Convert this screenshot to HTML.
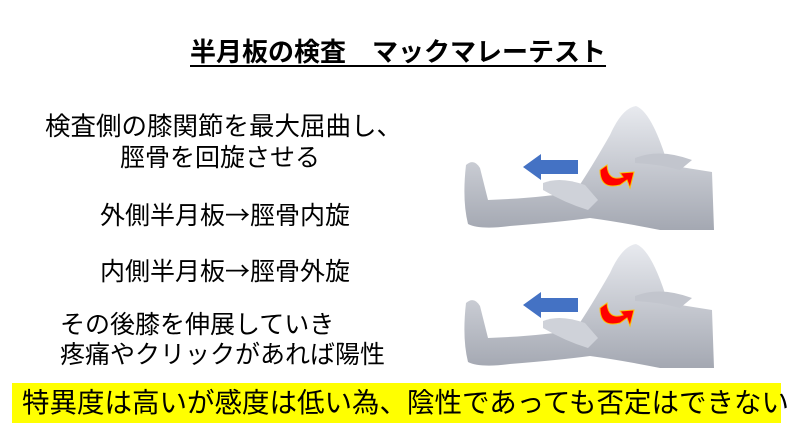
<!DOCTYPE html>
<html><head><meta charset="utf-8"><style>
body{margin:0;width:794px;height:447px;background:#fff;position:relative;overflow:hidden;font-family:"Liberation Sans","Noto Sans CJK JP",sans-serif;color:#000}
.t{position:absolute;white-space:nowrap;line-height:1}
.a{font-family:"Noto Sans CJK JP",sans-serif}
</style></head><body>
<div class="t" style="left:190px;top:39px;font-size:26px;font-weight:bold;text-decoration:underline;text-underline-offset:4px">半月板の検査　マックマレーテスト</div>
<div class="t" style="left:45px;top:115px;font-size:25.5px">検査側の膝関節を最大屈曲し、</div>
<div class="t" style="left:120px;top:146px;font-size:25px">脛骨を回旋させる</div>
<div class="t" style="left:100px;top:202px;font-size:25px">外側半月板<span class="a">→</span>脛骨内旋</div>
<div class="t" style="left:100px;top:258px;font-size:25px">内側半月板<span class="a">→</span>脛骨外旋</div>
<div class="t" style="left:60px;top:313px;font-size:25px">その後膝を伸展していき</div>
<div class="t" style="left:60px;top:343px;font-size:25px">疼痛やクリックがあれば陽性</div>
<div style="position:absolute;left:12px;top:383px;width:769px;height:40px;background:#ffff00"></div>
<div class="t" style="left:22px;top:389px;font-size:27.5px">特異度は高いが感度は低い為、陰性であっても否定はできない</div>
<svg style="position:absolute;left:0;top:0" width="794" height="447">
<defs><linearGradient id="g" x1="0" y1="0" x2="0" y2="1"><stop offset="0" stop-color="#e8eaef"/><stop offset="1" stop-color="#a4a8b2"/></linearGradient></defs>
<g id="leg">
<path d="M466,165 Q474,158 480,168 L488,200 Q540,198 575,192 Q590,170 610,135 Q622,108 636,106 Q652,112 668,165 L712,172 L714,230 L660,230 Q620,222 590,218 Q560,222 510,226 Q480,230 468,224 Q462,200 466,165Z" fill="url(#g)"/>
<path d="M543,183 Q560,176 585,185 L598,200 L588,210 Q565,203 543,190Z" fill="#cfd2d9"/>
<path d="M635,158 Q660,148 692,160 L680,170 Q658,164 635,163Z" fill="#c2c5cd"/>
<polygon points="578,160 541,160 541,154 523,167 541,180 541,174 578,174" fill="#4472c4"/>
<path d="M600,170 Q600,190 620,185 L627,180 L630,188 L634,172 L620,173 L623,177 Q608,182 607,165Z" fill="#ff0000" stroke="#ffc000" stroke-width="1"/>
</g>
<use href="#leg" transform="translate(0,138)"/>
</svg>
</body></html>
